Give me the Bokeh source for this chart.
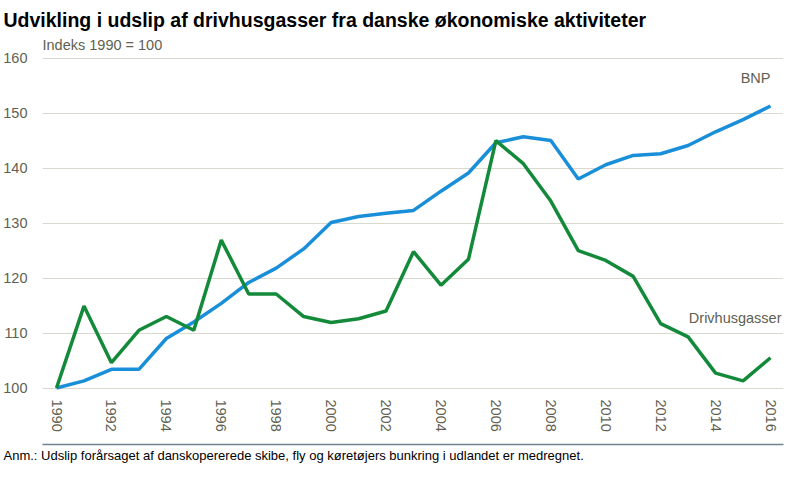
from bokeh.plotting import figure
from bokeh.models import Range1d, FixedTicker, Label, LinearAxis, Title
from bokeh.embed import file_html
from bokeh.resources import INLINE

years = list(range(1990, 2017))
bnp = [100, 101.3, 103.4, 103.4, 109.0, 112.0, 115.4, 119.2, 121.8, 125.3,
       130.1, 131.2, 131.8, 132.3, 135.8, 139.1, 144.6, 145.7, 145.0, 138.0,
       140.6, 142.3, 142.6, 144.1, 146.6, 148.8, 151.3]
drivhus = [100, 114.9, 104.6, 110.5, 113.0, 110.5, 126.9, 117.1, 117.1, 113.0,
           111.9, 112.6, 114.0, 124.8, 118.7, 123.4, 145.0, 140.8, 134.0, 125.0,
           123.2, 120.3, 111.7, 109.3, 102.7, 101.3, 105.5]
y_ticks = [100, 110, 120, 130, 140, 150, 160]
x_ticks = list(range(1990, 2017, 2))

title_text = "Udvikling i udslip af drivhusgasser fra danske økonomiske aktiviteter"
unit_text = "Indeks 1990 = 100"
note_text = "Anm.: Udslip forårsaget af danskopererede skibe, fly og køretøjers bunkring i udlandet er medregnet."

FONT = "Liberation Sans"
GRAY = "#5f5f52"
LBL = "14.5px"

p = figure(width=784, height=463, output_backend="svg", toolbar_location=None,
           x_range=Range1d(1989.49, 2016.473), y_range=Range1d(99, 163.93),
           min_border_left=42, min_border_right=1, min_border_top=30, min_border_bottom=64)
p.outline_line_color = None
p.background_fill_color = "white"

p.title.text = title_text
p.title.align = "left"
p.title.offset = -39
p.title.standoff = 12
p.title.text_font = FONT
p.title.text_font_style = "bold"
p.title.text_font_size = "19.5px"
p.title.text_color = "black"

p.yaxis.ticker = FixedTicker(ticks=y_ticks)
p.xaxis.ticker = FixedTicker(ticks=x_ticks)
for ax in (p.xaxis, p.yaxis):
    ax.axis_line_color = None
    ax.major_tick_line_color = None
    ax.minor_tick_line_color = None
    ax.major_tick_out = 0
    ax.major_tick_in = 0
    ax.major_label_text_font = FONT
    ax.major_label_text_font_size = LBL
    ax.major_label_text_color = GRAY
p.yaxis.major_label_standoff = 15
p.xaxis.major_label_standoff = 6
p.xaxis.major_label_orientation = -1.5707963
# invisible axis label: leaves a gap between the year labels and the separator
p.xaxis.axis_label = " "
p.xaxis.axis_label_standoff = 0
p.xaxis.axis_label_text_font_size = "7px"

p.xgrid.grid_line_color = None
p.ygrid.grid_line_color = "#d9d9d0"
p.ygrid.grid_line_width = 1.2

p.line(years, bnp, line_color="#1a8fd9", line_width=3.5)
p.line(years, drivhus, line_color="#138a3a", line_width=3.5)

p.add_layout(Label(x=2016, y=156.3, text="BNP", text_align="right", text_baseline="middle",
                   text_font=FONT, text_font_size=LBL, text_color=GRAY))
p.add_layout(Label(x=739, y=112.8, x_units="screen", text="Drivhusgasser", text_align="right",
                   text_baseline="middle", text_font=FONT, text_font_size=LBL, text_color=GRAY))
p.add_layout(Label(x=0, y=162.3, x_units="screen", text=unit_text,
                   text_align="left", text_baseline="middle",
                   text_font=FONT, text_font_size=LBL, text_color=GRAY))

# separator line below the tick labels
sep = LinearAxis(ticker=FixedTicker(ticks=[]), axis_line_color="#72828f", axis_line_width=1.6,
                 major_tick_line_color=None, minor_tick_line_color=None,
                 major_tick_out=0, major_tick_in=0, major_label_standoff=0)
p.add_layout(sep, "below")

note = Title(text=note_text, align="left", offset=-39, standoff=2,
             text_font=FONT, text_font_style="normal", text_font_size="13px", text_color="black")
p.add_layout(note, "below")

open("out.html", "w").write(file_html(p, INLINE))
